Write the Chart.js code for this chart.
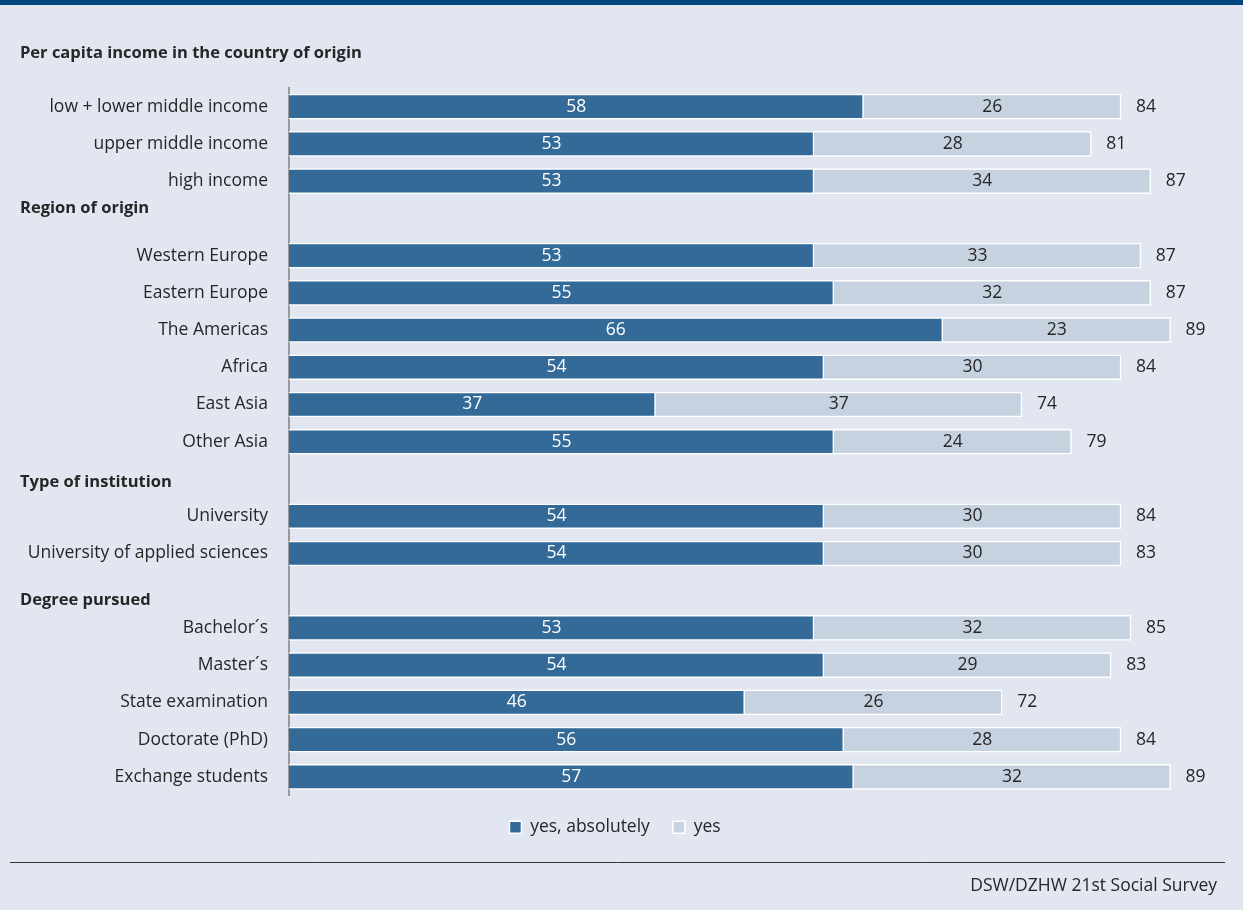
<!DOCTYPE html>
<html>
<head>
<meta charset="utf-8">
<title>Per capita income, region, institution and degree</title>
<script src="https://cdn.jsdelivr.net/npm/chart.js@4/dist/chart.umd.min.js"></script>
<style>
  html, body { margin: 0; padding: 0; background: #e1e6f0; }
  #wrap { position: relative; width: 1243px; height: 910px; }
</style>
</head>
<body>
<div id="wrap"><canvas id="chart"></canvas></div>
<script>
// Rows of the chart; empty strings are the rows that carry a group heading
const categories = [
  'low + lower middle income', 'upper middle income', 'high income',
  '',
  'Western Europe', 'Eastern Europe', 'The Americas', 'Africa', 'East Asia', 'Other Asia',
  '',
  'University', 'University of applied sciences',
  '',
  'Bachelor\u00b4s', 'Master\u00b4s', 'State examination', 'Doctorate (PhD)', 'Exchange students'
];

const yesAbsolutely = [58, 53, 53, null, 53, 55, 66, 54, 37, 55, null, 54, 54, null, 53, 54, 46, 56, 57];
const yes           = [26, 28, 34, null, 33, 32, 23, 30, 37, 24, null, 30, 30, null, 32, 29, 26, 28, 32];
const totals        = [84, 81, 87, null, 87, 87, 89, 84, 74, 79, null, 84, 83, null, 85, 83, 72, 84, 89];

const topHeading = 'Per capita income in the country of origin';
const groupRows = [3, 10, 13];
const groupHeadings = ['Region of origin', 'Type of institution', 'Degree pursued'];

const seriesNames = ['yes, absolutely', 'yes'];
const sourceText = 'DSW/DZHW 21st Social Survey';

const FONT = '"Open Sans", "Noto Sans", sans-serif';
const TEXT = '#262626';
const SIZE = 17.5;

// headings, value labels, totals and the frame around the plot
const decorations = {
  id: 'decorations',
  afterDatasetsDraw(chart) {
    const ctx = chart.ctx;
    const y = chart.scales.y;
    ctx.save();

    // segment values
    ctx.font = SIZE + 'px ' + FONT;
    ctx.textAlign = 'center';
    ctx.textBaseline = 'middle';
    chart.data.datasets.forEach((ds, di) => {
      chart.getDatasetMeta(di).data.forEach((bar, i) => {
        if (ds.data[i] == null) return;
        ctx.fillStyle = di === 0 ? '#ffffff' : TEXT;
        ctx.fillText(ds.data[i], (bar.x + bar.base) / 2, bar.y);
      });
    });

    // totals after the end of each bar
    ctx.textAlign = 'left';
    ctx.fillStyle = TEXT;
    const last = chart.getDatasetMeta(1).data;
    totals.forEach((t, i) => {
      if (t == null) return;
      ctx.fillText(t, last[i].x + 15, last[i].y);
    });

    // group headings
    ctx.font = 'bold 16.5px ' + FONT;
    const nudge = [-10, 3, 10];
    groupRows.forEach((row, k) => {
      ctx.fillText(groupHeadings[k], 20, y.getPixelForValue(row) + nudge[k]);
    });
    ctx.fillText(topHeading, 20, 53);

    // top band
    ctx.fillStyle = '#00467f';
    ctx.fillRect(0, 0, chart.width, 5);

    // footer rule and source
    ctx.strokeStyle = '#333333';
    ctx.lineWidth = 1;
    ctx.beginPath();
    ctx.moveTo(10, 862.5);
    ctx.lineTo(1225, 862.5);
    ctx.stroke();
    ctx.font = SIZE + 'px ' + FONT;
    ctx.textAlign = 'right';
    ctx.fillStyle = TEXT;
    ctx.fillText(sourceText, 1217, 886);

    ctx.restore();
  }
};

new Chart(document.getElementById('chart'), {
  type: 'bar',
  data: {
    labels: categories,
    datasets: [
      {
        label: seriesNames[0],
        data: yesAbsolutely,
        backgroundColor: '#336a98',
        borderColor: '#ffffff',
        borderWidth: 1.5,
        barThickness: 25
      },
      {
        label: seriesNames[1],
        data: yes,
        backgroundColor: '#c7d2e1',
        borderColor: '#ffffff',
        borderWidth: 1.5,
        barThickness: 25
      }
    ]
  },
  options: {
    indexAxis: 'y',
    responsive: true,
    maintainAspectRatio: false,
    animation: false,
    layout: { padding: { top: 88, right: 13, bottom: 64, left: 0 } },
    scales: {
      x: {
        stacked: true,
        display: false,
        min: 0,
        max: 95
      },
      y: {
        stacked: true,
        grid: { display: false },
        border: { display: true, color: '#999999', width: 2 },
        ticks: {
          color: TEXT,
          padding: 13,
          font: { family: FONT, size: SIZE }
        },
        afterFit(scale) { scale.width = 289; }
      }
    },
    plugins: {
      legend: {
        position: 'bottom',
        labels: {
          color: TEXT,
          boxWidth: 12,
          boxHeight: 12,
          padding: 23,
          font: { family: FONT, size: SIZE }
        }
      },
      tooltip: { enabled: false }
    }
  },
  plugins: [decorations]
});
</script>
</body>
</html>
